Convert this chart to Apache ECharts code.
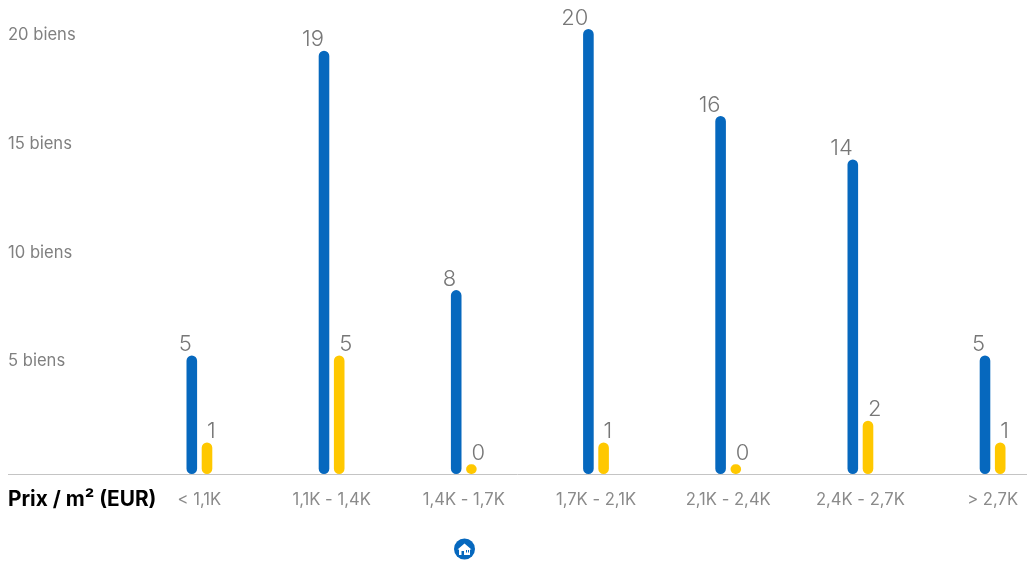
<!DOCTYPE html>
<html><head><meta charset="utf-8">
<style>html,body{margin:0;padding:0;background:#fff}#c{width:1027px;height:564px}</style>
<script src="https://cdn.jsdelivr.net/npm/echarts@6/dist/echarts.min.js"></script></head>
<body><div id="c"></div>
<script>
const categories = ['< 1,1K','1,1K - 1,4K','1,4K - 1,7K','1,7K - 2,1K','2,1K - 2,4K','2,4K - 2,7K','> 2,7K'];
const blueValues = [5,19,8,20,16,14,5];
const yellowValues = [1,5,0,1,0,2,1];
const yTicks = [5,10,15,20];
const axisTitle = 'Prix / m² (EUR)';
const font = 'Inter';
const axisMin = -0.45;
const chart = echarts.init(document.getElementById('c'), null, {renderer:'canvas'});
function pillSeries(name, values, color, barShift, labelAlign){
  return {
    type:'custom', name, coordinateSystem:'cartesian2d', clip:false,
    data:values.map((v,i)=>[i,v]),
    encode:{x:0,y:1},
    renderItem(params, api){
      const i = api.value(0), v = api.value(1);
      const top = api.coord([i, v]), bottom = api.coord([i, axisMin]);
      return {type:'group', children:[
        {type:'rect', shape:{x:top[0]+barShift-5.3, y:top[1], width:10.6, height:bottom[1]-top[1], r:5.3}, style:{fill:color}},
        {type:'text', style:{text:String(v), x:top[0]+barShift, y:top[1]-11, align:labelAlign, verticalAlign:'middle',
          fill:'#777', fontFamily:font, fontSize:22, fontWeight:300}}
      ]};
    }
  };
}
chart.setOption({
  animation:false,
  backgroundColor:'#fff',
  grid:{left:133.3, top:29, width:925.4, height:445, outerBoundsMode:'none', containLabel:false},
  title:{text:axisTitle, left:8, top:489, textStyle:{fontFamily:font, fontSize:20.8, fontWeight:700, color:'#000'}, padding:0},
  xAxis:{type:'category', data:categories, axisTick:{show:false}, axisLine:{show:false},
    axisLabel:{interval:0, color:'#8a8a8a', fontFamily:font, fontSize:16.6, margin:17}},
  yAxis:{type:'value', min:axisMin, max:20, splitLine:{show:false}, axisLine:{show:false}, axisTick:{show:false},
    axisLabel:{customValues:yTicks, formatter:v=>v+' biens', align:'left', margin:125.3, color:'#808080', fontFamily:font, fontSize:16.6, verticalAlign:'top', lineHeight:12}},
  series:[
    pillSeries('a', blueValues, '#0668BE', -7.6, 'right'),
    pillSeries('b', yellowValues, '#FFC800', 7.6, 'left')
  ],
  graphic:[
    {type:'line', shape:{x1:8,y1:474.5,x2:1027,y2:474.5}, style:{stroke:'#c4c4c4', lineWidth:1}, z:0},
    {type:'group', children:[
      {type:'circle', shape:{cx:464.5,cy:549,r:10.5}, style:{fill:'#0668BE'}},
      {type:'polygon', shape:{points:[[457.5,549.5],[464.5,543.5],[471.5,549.5],[470,549.5],[470,555],[459,555],[459,549.5]]}, style:{fill:'#fff'}},
      {type:'rect', shape:{x:461.5,y:551,width:2.5,height:4}, style:{fill:'#0668BE'}},
      {type:'rect', shape:{x:466,y:550,width:1,height:2.5}, style:{fill:'#0668BE'}},
      {type:'rect', shape:{x:468,y:550,width:1,height:2.5}, style:{fill:'#0668BE'}}
    ]}
  ]
});
</script></body></html>
